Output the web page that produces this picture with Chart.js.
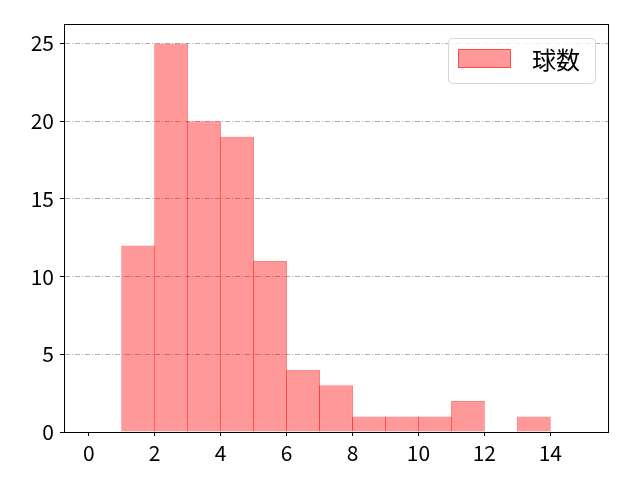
<!DOCTYPE html>
<html>
<head>
<meta charset="utf-8">
<script src="https://cdn.jsdelivr.net/npm/chart.js@4/dist/chart.umd.min.js"></script>
<style>
  html, body { margin: 0; padding: 0; background: #fff; }
  #wrap { width: 640px; height: 480px; }
</style>
</head>
<body>
<div id="wrap"><canvas id="histChart" width="640" height="480"></canvas></div>
<script>
// histogram bins (left edges, width 1) and counts
const binStarts = [0, 1, 2, 3, 4, 5, 6, 7, 8, 9, 10, 11, 12, 13, 14];
const counts = [0, 12, 25, 20, 19, 11, 4, 3, 1, 1, 1, 2, 0, 1, 0];
const seriesLabel = '球数';
const xTicks = [0, 2, 4, 6, 8, 10, 12, 14];
const yTicks = [0, 5, 10, 15, 20, 25];

const FONT = '"Noto Sans CJK JP", "Noto Sans", sans-serif';
const fillColor = 'rgba(255, 0, 0, 0.4)';
const edgeColor = 'rgba(255, 0, 0, 0.5)';

const points = binStarts.map((s, i) => ({ x: s + 0.5, y: counts[i] }));

// frame round the plot area + legend box
const framePlugin = {
    id: 'frame',
    afterDraw(chart) {
        const { ctx, chartArea: a } = chart;
        ctx.save();
        ctx.strokeStyle = '#000';
        ctx.lineWidth = 1;
        ctx.strokeRect(a.left + 0.5, a.top + 0.5, a.right - a.left, a.bottom - a.top);

        // legend
        const bx = a.right - 160, by = a.top + 14, bw = 147, bh = 45;
        ctx.beginPath();
        ctx.roundRect(bx + 0.5, by + 0.5, bw, bh, 4);
        ctx.fillStyle = 'rgba(255,255,255,0.8)';
        ctx.fill();
        ctx.strokeStyle = '#d6d6d6';
        ctx.stroke();

        ctx.fillStyle = fillColor;
        ctx.fillRect(bx + 10, by + 11, 53, 19);
        ctx.strokeStyle = edgeColor;
        ctx.strokeRect(bx + 10.5, by + 11.5, 52, 18);

        ctx.fillStyle = '#000';
        ctx.font = '24px ' + FONT;
        ctx.textBaseline = 'middle';
        ctx.textAlign = 'left';
        ctx.fillText(chart.data.datasets[0].label, bx + 84, by + 22);
        ctx.restore();
    }
};

const ctx = document.getElementById('histChart').getContext('2d');
new Chart(ctx, {
    type: 'bar',
    data: {
        datasets: [{
            label: seriesLabel,
            data: points,
            backgroundColor: fillColor,
            borderColor: edgeColor,
            borderWidth: 1,
            borderSkipped: false,
            barPercentage: 1.03,
            categoryPercentage: 1
        }]
    },
    options: {
        responsive: false,
        animation: false,
        layout: { padding: { top: 24, right: 32, left: 0, bottom: 0 } },
        plugins: {
            legend: { display: false },
            tooltip: { enabled: false }
        },
        scales: {
            x: {
                type: 'linear',
                min: -0.75,
                max: 15.75,
                offset: false,
                afterBuildTicks: axis => { axis.ticks = xTicks.map(v => ({ value: v })); },
                afterFit: axis => { axis.height = 48; },
                grid: {
                    display: true,
                    offset: false,
                    drawOnChartArea: false,
                    drawTicks: true,
                    tickLength: 4,
                    tickColor: '#000'
                },
                border: { display: true, color: '#000', width: 1 },
                ticks: {
                    color: '#000',
                    padding: 4,
                    maxRotation: 0,
                    font: { family: FONT, size: 21 }
                }
            },
            y: {
                min: 0,
                max: 26.25,
                afterBuildTicks: axis => { axis.ticks = yTicks.map(v => ({ value: v })); },
                afterFit: axis => { axis.width = 64; },
                grid: {
                    color: '#b0b0b0',
                    lineWidth: 1,
                    drawTicks: true,
                    tickLength: 4,
                    tickColor: '#000',
                    tickBorderDash: []
                },
                border: { display: true, color: '#000', width: 1, dash: [5, 2, 1, 2] },
                ticks: {
                    color: '#000',
                    padding: 6,
                    font: { family: FONT, size: 21 }
                }
            }
        }
    },
    plugins: [framePlugin]
});
</script>
</body>
</html>
